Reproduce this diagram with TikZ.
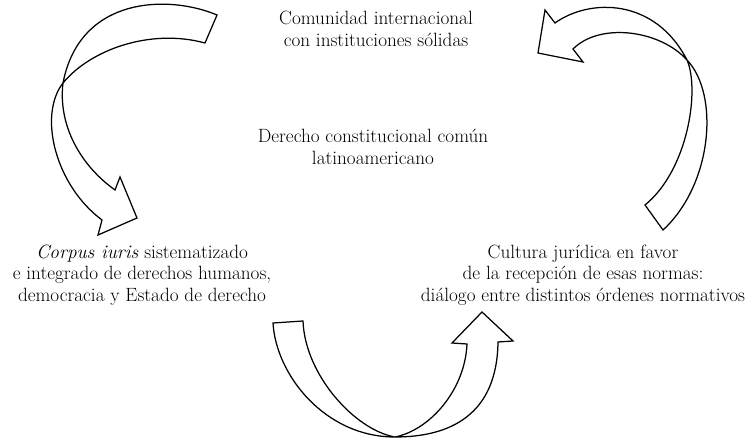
\documentclass[tikz,border=0pt]{standalone}
\usepackage{tikz}
\usepackage{xcolor}
\usetikzlibrary{positioning}
\tikzset{
    txt/.style={align=center, inner sep=0pt, font=\fontsize{19.2}{21.5}\selectfont},
    ribbon/.style={draw=black, line width=1.25pt, line join=miter}
}

\begin{document}
\begin{tikzpicture}[x=1pt, y=-1pt]
                \useasboundingbox (0,0) rectangle (754,443);

                \node [txt] (top) at (376,29) {Comunidad internacional\\con instituciones sólidas};
                \node [txt] (mid) at (373,147) {Derecho constitucional común\\latinoamericano};
                \node [txt] (left) at (142,275) {\textit{Corpus iuris} sistematizado\\e integrado de derechos humanos,\\democracia y Estado de derecho};
                \node [txt] (right) at (583,275) {Cultura jurídica en favor\\de la recepción de esas normas:\\diálogo entre distintos órdenes normativos};

                % arrow top -> left
                \draw[ribbon] (217,15) .. controls (170,-5) and (80,-5) .. (63,83)
                    .. controls (58,125) and (80,165) .. (115,190)
                    -- (120,177) -- (137,218) -- (98,235) -- (102,220)
                    .. controls (55,185) and (38,115) .. (63,83)
                    .. controls (90,50) and (150,28) .. (205,43) -- cycle;

                % arrow left -> right
                \draw[ribbon] (273,323) .. controls (276,375) and (325,437) .. (395,437)
                    .. controls (450,437) and (497,415) .. (498,342)
                    -- (513,341) -- (482,312) -- (452,343) -- (467,344)
                    .. controls (465,390) and (430,430) .. (395,437)
                    .. controls (355,430) and (305,375) .. (303,321) -- cycle;

                % arrow right -> top
                \draw[ribbon] (555,23) .. controls (590,-2) and (655,-2) .. (687,60)
                    .. controls (720,95) and (712,185) .. (663,230)
                    -- (645,205)
                    .. controls (688,170) and (700,90) .. (687,60)
                    .. controls (660,30) and (600,22) .. (573,49)
                    -- (583,62) -- (538,53) -- (545,10) -- cycle;
            \end{tikzpicture}
\end{document}
